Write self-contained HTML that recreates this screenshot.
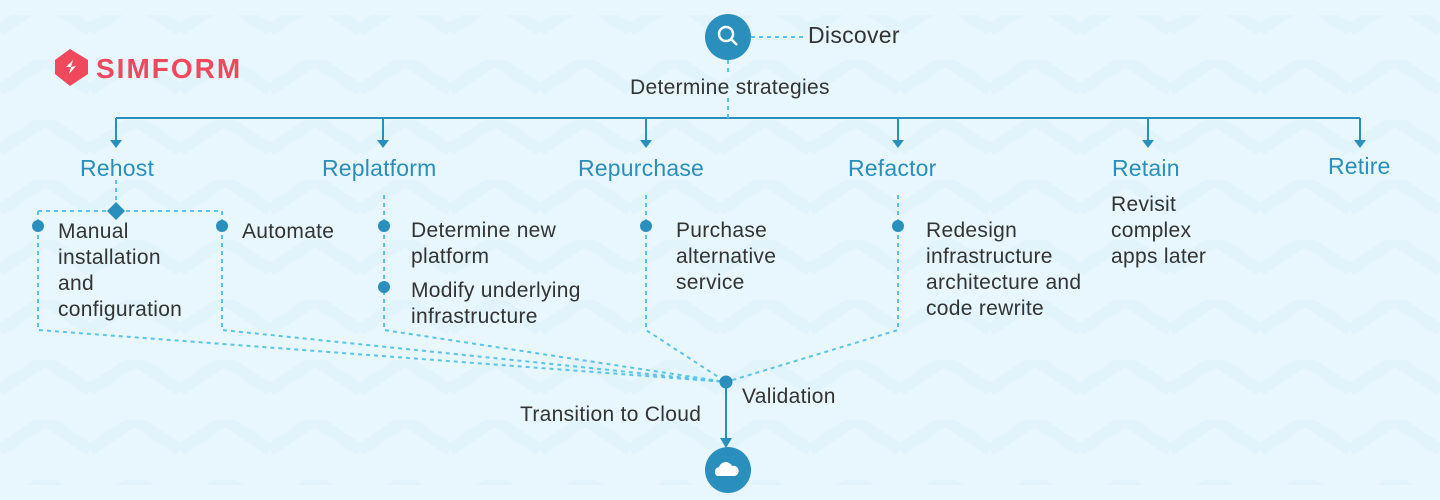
<!DOCTYPE html>
<html><head><style>
body{margin:0;width:1440px;height:500px;overflow:hidden;background:#e8f7fd;font-family:"Liberation Sans",sans-serif;}
.t{position:absolute;font-size:21px;color:#333;line-height:26px;letter-spacing:0.3px;}
.h{position:absolute;font-size:23px;color:#2a8fbd;letter-spacing:0.2px;}
</style></head><body>
<svg width="1440" height="500" style="position:absolute;left:0;top:0">
<defs>
<pattern id="zz" width="90" height="60" patternUnits="userSpaceOnUse">
<path d="M0 30 L45 0 L90 30" fill="none" stroke="#e1f3fb" stroke-width="12"/>
</pattern>
</defs>
<rect x="0" y="15" width="1440" height="470" fill="url(#zz)"/>
<g stroke="#2a8fbd" stroke-width="2" fill="none">
<path d="M116 118 H1360"/>
<path d="M116 118 V142 M383 118 V142 M646 118 V142 M898 118 V142 M1148 118 V142 M1360 118 V142"/>
<path d="M726 382 V440"/>
</g>
<g fill="#2a8fbd">
<path d="M110 140 L122 140 L116 148Z"/><path d="M377 140 L389 140 L383 148Z"/><path d="M640 140 L652 140 L646 148Z"/>
<path d="M892 140 L904 140 L898 148Z"/><path d="M1142 140 L1154 140 L1148 148Z"/><path d="M1354 140 L1366 140 L1360 148Z"/>
<path d="M720 438 L732 438 L726 448Z"/>
</g>
<g stroke="#5cc3ea" stroke-width="2" stroke-dasharray="4 4" fill="none">
<path d="M751 37 H803"/>
<path d="M728 60 V72 M728 98 V118"/>
<path d="M116 180 V204"/>
<path d="M38 211 H222"/>
<path d="M38 211 V330 L726 382"/>
<path d="M222 211 V330 L726 382"/>
<path d="M384 195 V330 L726 382"/>
<path d="M646 195 V330 L726 382"/>
<path d="M898 195 V330 L726 382"/>
</g>
<g fill="#2a8fbd">
<path d="M116 202 L125 211 L116 220 L107 211Z"/>
<circle cx="38" cy="226" r="6"/><circle cx="222" cy="226" r="6"/>
<circle cx="384" cy="226" r="6"/><circle cx="384" cy="287" r="6"/>
<circle cx="646" cy="226" r="6"/><circle cx="898" cy="226" r="6"/>
<circle cx="726" cy="382" r="6.5"/>
<circle cx="728" cy="37" r="23"/>
<circle cx="728" cy="470" r="23"/>
</g>
<circle cx="726" cy="34" r="7" fill="none" stroke="#fff" stroke-width="2.5"/>
<path d="M731 39 L737 45" stroke="#fff" stroke-width="2.5"/>
<path d="M717 476 a5 5 0 0 1 2-9 a7 7 0 0 1 13-1 a5 5 0 0 1 3 10Z" fill="#fff"/>
<path d="M55 60 L70 49 L88 60 L88 74 L70 86 L55 74Z" fill="#f0495e"/>
<path d="M66 67 L73 60 L71 67 L76 66 L69 74 L71 67Z" fill="#fff"/>
</svg>
<div style="position:absolute;left:96px;top:53px;font-size:28px;font-weight:bold;color:#f0495e;letter-spacing:2px">SIMFORM</div>
<div class="t" style="left:808px;top:22px;font-size:23px">Discover</div>
<div class="t" style="left:630px;top:75px">Determine strategies</div>
<div class="h" style="left:80px;top:155px">Rehost</div>
<div class="h" style="left:322px;top:155px">Replatform</div>
<div class="h" style="left:578px;top:155px">Repurchase</div>
<div class="h" style="left:848px;top:155px">Refactor</div>
<div class="h" style="left:1112px;top:155px">Retain</div>
<div class="h" style="left:1328px;top:153px">Retire</div>
<div class="t" style="left:58px;top:219px">Manual<br>installation<br>and<br>configuration</div>
<div class="t" style="left:242px;top:219px">Automate</div>
<div class="t" style="left:411px;top:218px">Determine new<br>platform</div>
<div class="t" style="left:411px;top:278px">Modify underlying<br>infrastructure</div>
<div class="t" style="left:676px;top:218px">Purchase<br>alternative<br>service</div>
<div class="t" style="left:926px;top:218px">Redesign<br>infrastructure<br>architecture and<br>code rewrite</div>
<div class="t" style="left:1111px;top:192px">Revisit<br>complex<br>apps later</div>
<div class="t" style="left:742px;top:384px">Validation</div>
<div class="t" style="left:520px;top:402px">Transition to Cloud</div>
</body></html>
